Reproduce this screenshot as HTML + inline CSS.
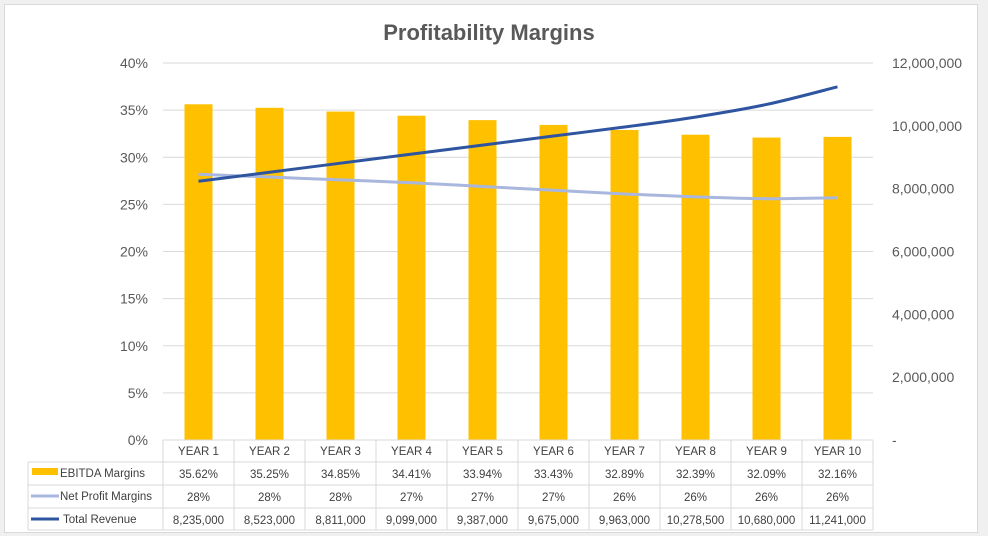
<!DOCTYPE html>
<html><head><meta charset="utf-8"><style>
body{margin:0;background:#f0f0f0;width:988px;height:536px;overflow:hidden;font-family:"Liberation Sans",sans-serif}
#chart{position:absolute;left:4px;top:4px;width:972px;height:527px;background:#fff;border:1px solid #d9d9d9}
</style></head><body>
<div id="chart"></div>
<svg id="svg" width="988" height="536" style="position:absolute;left:0;top:0">
<text x="489" y="40" text-anchor="middle" font-size="22" font-weight="bold" fill="#595959">Profitability Margins</text>
</svg>
<script>
const categories=["YEAR 1","YEAR 2","YEAR 3","YEAR 4","YEAR 5","YEAR 6","YEAR 7","YEAR 8","YEAR 9","YEAR 10"];
const ebitda=[35.62,35.25,34.85,34.41,33.94,33.43,32.89,32.39,32.09,32.16];
const netProfit=[28.2,27.9,27.6,27.3,26.9,26.5,26.1,25.8,25.6,25.7];
const netProfitLabels=["28%","28%","28%","27%","27%","27%","26%","26%","26%","26%"];
const revenue=[8235000,8523000,8811000,9099000,9387000,9675000,9963000,10278500,10680000,11241000];
const leftTicks=[0,5,10,15,20,25,30,35,40];
const rightTicks=[0,2000000,4000000,6000000,8000000,10000000,12000000];
const NS="http://www.w3.org/2000/svg",svg=document.getElementById('svg');
const X0=163,CW=71,Y0=440,Y1=63;
const yL=v=>Y0-(v/40)*(Y0-Y1), yR=v=>Y0-(v/12000000)*(Y0-Y1), xC=i=>X0+CW*(i+0.5);
function el(t,a,txt){const e=document.createElementNS(NS,t);for(const k in a)e.setAttribute(k,a[k]);if(txt!==undefined)e.textContent=txt;svg.appendChild(e);return e;}
const fmt=n=>n.toLocaleString('en-US');
leftTicks.forEach(v=>{
 if(v>0){const g=el('line',{x1:X0,x2:X0+CW*10,y1:yL(v),y2:yL(v),stroke:'#d9d9d9'});
 
 }
 const t=el('text',{x:148,y:yL(v)+5,'text-anchor':'end','font-size':14,fill:'#595959'},v+'%');
 
 
});
rightTicks.forEach(v=>{
 const t=el('text',{x:892,y:yR(v)+5,'font-size':14,fill:'#595959'},v===0?'-':fmt(v));
 
 
});
ebitda.forEach((v,i)=>{
 const r=el('rect',{x:xC(i)-14,y:yL(v),width:28,height:Y0-yL(v),fill:'#ffc000'});
 
 
});
function smooth(pts){let d=`M${pts[0][0]},${pts[0][1]}`;for(let i=0;i<pts.length-1;i++){const p0=pts[i-1]||pts[i],p1=pts[i],p2=pts[i+1],p3=pts[i+2]||p2;
 d+=` C${p1[0]+(p2[0]-p0[0])/6},${p1[1]+(p2[1]-p0[1])/6} ${p2[0]-(p3[0]-p1[0])/6},${p2[1]-(p3[1]-p1[1])/6} ${p2[0]},${p2[1]}`;}return d;}
const np=el('path',{d:smooth(netProfit.map((v,i)=>[xC(i),yL(v)])),fill:'none',stroke:'#a9b7de','stroke-width':3});


const rv=el('path',{d:smooth(revenue.map((v,i)=>[xC(i),yR(v)])),fill:'none',stroke:'#2f55a0','stroke-width':3});


// data table
const rows=[440,462,485,508,530],LX=28,RX=X0+CW*10,bc='#d9d9d9';
el('line',{x1:X0,x2:RX,y1:440,y2:440,stroke:bc});
for(let r=1;r<rows.length;r++)el('line',{x1:LX,x2:RX,y1:rows[r],y2:rows[r],stroke:bc});
el('line',{x1:LX,x2:LX,y1:462,y2:530,stroke:bc});
for(let c=0;c<=10;c++)el('line',{x1:X0+CW*c,x2:X0+CW*c,y1:440,y2:530,stroke:bc});
const tf={'font-size':11.5,fill:'#404040','text-anchor':'middle'};
categories.forEach((c,i)=>{
 const t=el('text',Object.assign({x:xC(i),y:455},tf),c);
 
 
 const a=el('text',Object.assign({x:xC(i),y:478},tf),ebitda[i].toFixed(2)+'%');
 
 
 const b=el('text',Object.assign({x:xC(i),y:501},tf),netProfitLabels[i]);
 
 
 const d=el('text',Object.assign({x:xC(i),y:524},tf),fmt(revenue[i]));
 
 
});
const lg=[['EBITDA Margins','#ffc000',473],['Net Profit Margins','#a9b7de',496],['Total Revenue','#2f55a0',519]];
lg.forEach((l,i)=>{
 if(i===0)el('rect',{x:32,y:l[2]-5,width:26,height:7,fill:l[1]});
 else el('line',{x1:31,x2:59,y1:l[2],y2:l[2],stroke:l[1],'stroke-width':3});
 const t=el('text',{x:i===2?63:60,y:l[2]+4,'font-size':11.5,fill:'#404040'},l[0]);
 
 
});
</script>
</body></html>
